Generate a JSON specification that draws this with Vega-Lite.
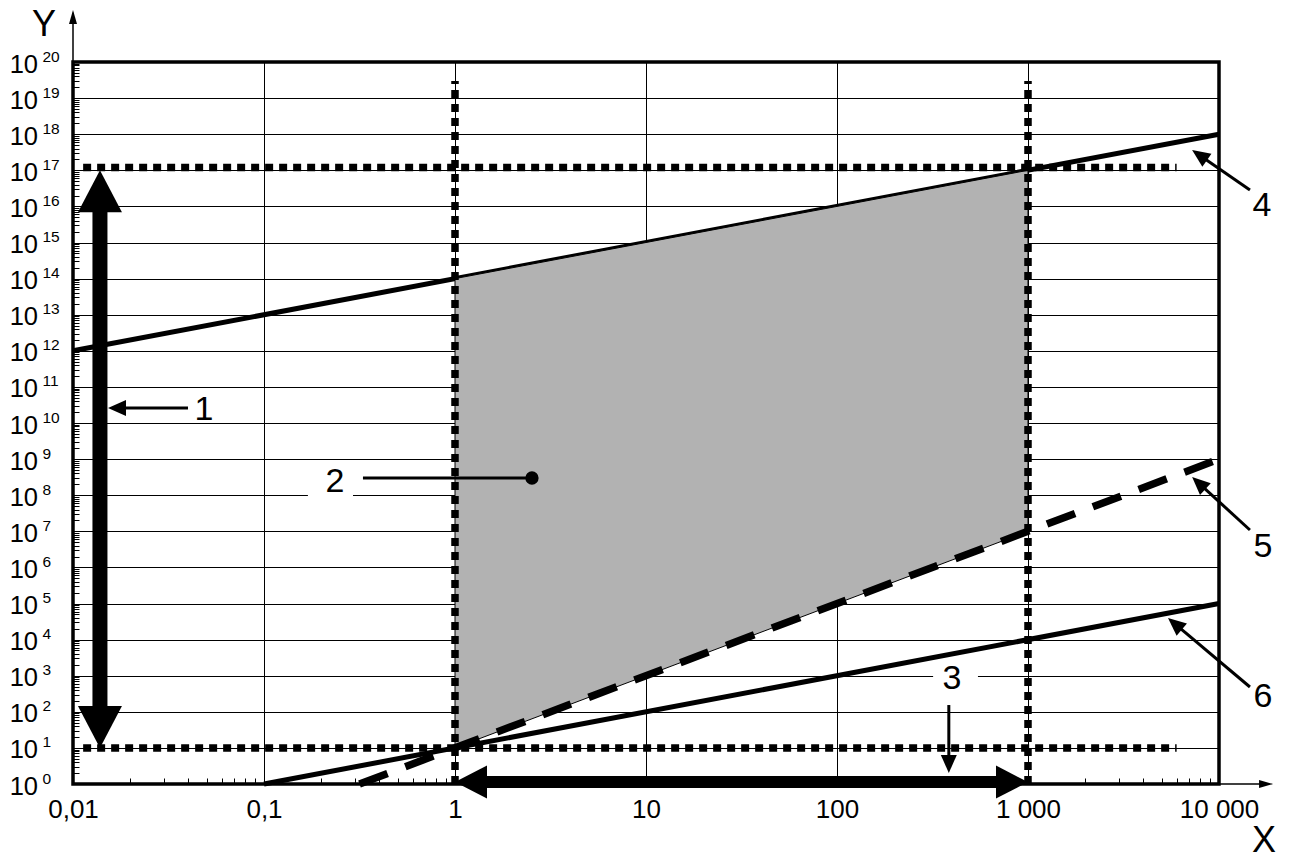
{
  "$schema": "https://vega.github.io/schema/vega-lite/v6.json",
  "width": 1146,
  "height": 722,
  "autosize": {"type": "none"},
  "padding": {"left": 73, "top": 62, "right": 73, "bottom": 74},
  "background": "white",
  "config": {
    "font": "Liberation Sans",
    "view": {"stroke": "black", "strokeWidth": 3.5},
    "axis": {"titleFont": "Liberation Sans", "labelFont": "Liberation Sans", "titleColor": "black", "labelColor": "black"}
  },
  "datasets": {
    "boxes": [
      {"x": 0.1698, "x2": 0.2924, "y": 8.3e8, "y2": 7.36e7},
      {"x": 318.6, "x2": 547, "y": 2722, "y2": 292}
    ],
    "line4": [{"x": 0.01, "y": 1e12}, {"x": 10000, "y": 1e18}],
    "region": [{"x": 1, "y": 1e14, "y2": 10}, {"x": 1000, "y": 1e17, "y2": 1e7}],
    "line5": [{"x": 0.3162, "y": 1}, {"x": 10000, "y": 1e9}],
    "line6": [{"x": 0.1, "y": 1}, {"x": 10000, "y": 1e5}],
    "dotted": [
      {"x": 1, "x2": 1, "y": 1, "y2": 3e19},
      {"x": 1000, "x2": 1000, "y": 1, "y2": 3e19},
      {"x": 0.0113, "x2": 6000, "y": 10, "y2": 10},
      {"x": 0.0113, "x2": 6000, "y": 1.2e17, "y2": 1.2e17}
    ],
    "bars": [
      {"id": "v", "x": 0.01384, "x2": 0.01384, "y": 100, "y2": 1e16},
      {"id": "h", "x": 1.4, "x2": 720, "y": 1.13, "y2": 1.13}
    ],
    "heads": [
      {"id": "a1up", "x": 0.01384, "y": 1e17},
      {"id": "a1dn", "x": 0.01384, "y": 10},
      {"id": "a3l", "x": 1, "y": 1.13},
      {"id": "a3r", "x": 1000, "y": 1.13},
      {"id": "l1", "x": 0.01525, "y": 2.6e10},
      {"id": "l3", "x": 385, "y": 2.02},
      {"id": "l4", "x": 7230, "y": 3.65e17},
      {"id": "l5", "x": 7230, "y": 3.19e8},
      {"id": "l6", "x": 5408, "y": 39650},
      {"id": "ay", "x": 0.01, "y": 2.76e21},
      {"id": "ax", "x": 19190, "y": 1}
    ],
    "leaders": [
      {"x": 0.04, "y": 2.6e10, "x2": 0.0168, "y2": 2.6e10},
      {"x": 385, "y": 154, "x2": 385, "y2": 3.36},
      {"x": 14520, "y": 2.85e16, "x2": 7816, "y2": 2.74e17},
      {"x": 14520, "y": 1.087e7, "x2": 7762, "y2": 2.26e8},
      {"x": 14520, "y": 486, "x2": 5821, "y2": 28450},
      {"x": 0.3297, "y": 2.99e8, "x2": 2.529, "y2": 2.99e8}
    ],
    "dot": [{"x": 2.529, "y": 2.99e8}],
    "axisext": [
      {"x": 0.01, "x2": 0.01, "y": 1e20, "y2": 2.3e21},
      {"x": 10000, "x2": 17500, "y": 1, "y2": 1}
    ],
    "labels": [
      {"x": 0.0485, "y": 2.6e10, "t": "1"},
      {"x": 0.2355, "y": 2.64e8, "t": "2"},
      {"x": 400, "y": 920, "t": "3"},
      {"x": 16790, "y": 1.165e16, "t": "4"},
      {"x": 16980, "y": 4.17e6, "t": "5"},
      {"x": 16980, "y": 292, "t": "6"}
    ],
    "ylab": [
      {"x": 0.01, "y": 1, "e": "0"}, {"x": 0.01, "y": 1e1, "e": "1"}, {"x": 0.01, "y": 1e2, "e": "2"}, {"x": 0.01, "y": 1e3, "e": "3"},
      {"x": 0.01, "y": 1e4, "e": "4"}, {"x": 0.01, "y": 1e5, "e": "5"}, {"x": 0.01, "y": 1e6, "e": "6"}, {"x": 0.01, "y": 1e7, "e": "7"},
      {"x": 0.01, "y": 1e8, "e": "8"}, {"x": 0.01, "y": 1e9, "e": "9"}, {"x": 0.01, "y": 1e10, "e": "10"}, {"x": 0.01, "y": 1e11, "e": "11"},
      {"x": 0.01, "y": 1e12, "e": "12"}, {"x": 0.01, "y": 1e13, "e": "13"}, {"x": 0.01, "y": 1e14, "e": "14"}, {"x": 0.01, "y": 1e15, "e": "15"},
      {"x": 0.01, "y": 1e16, "e": "16"}, {"x": 0.01, "y": 1e17, "e": "17"}, {"x": 0.01, "y": 1e18, "e": "18"}, {"x": 0.01, "y": 1e19, "e": "19"},
      {"x": 0.01, "y": 1e20, "e": "20"}
    ]
  },
  "encoding": {
    "x": {
      "field": "x", "type": "quantitative",
      "scale": {"type": "log", "domain": [0.01, 10000], "nice": false},
      "axis": {
        "title": "X", "titleFontSize": 36, "titleFontWeight": "normal",
        "titleX": 1190.5, "titleY": 56, "titleAlign": "center", "titleBaseline": "middle", "titleAngle": 0,
        "grid": true, "gridColor": "black", "gridWidth": 1,
        "gridOpacity": {"condition": {"test": "abs(log(datum.value)/LN10 - round(log(datum.value)/LN10)) < 0.001", "value": 1}, "value": 0},
        "tickCount": 60, "ticks": true, "tickSize": -6, "tickColor": "black", "tickWidth": 1,
        "domain": false,
        "labelExpr": "abs(datum.value-0.01)<1e-9 ? '0,01' : abs(datum.value-0.1)<1e-9 ? '0,1' : abs(datum.value-1)<1e-9 ? '1' : abs(datum.value-10)<1e-9 ? '10' : abs(datum.value-100)<1e-9 ? '100' : abs(datum.value-1000)<1e-9 ? '1 000' : abs(datum.value-10000)<1e-9 ? '10 000' : ''",
        "labelFontSize": 26, "labelPadding": 18, "labelFlush": false, "labelOverlap": false, "labelBaseline": "top"
      }
    },
    "y": {
      "field": "y", "type": "quantitative",
      "scale": {"type": "log", "domain": [1, 1e20], "nice": false},
      "axis": {
        "title": "Y", "titleFontSize": 36, "titleFontWeight": "normal", "titleAngle": 0,
        "titleX": -29.5, "titleY": -38, "titleAlign": "center", "titleBaseline": "middle",
        "grid": true, "gridColor": "black", "gridWidth": 1,
        "gridOpacity": {"condition": {"test": "abs(log(datum.value)/LN10 - round(log(datum.value)/LN10)) < 0.001", "value": 1}, "value": 0},
        "tickCount": 100, "ticks": true, "tickSize": -6, "tickColor": "black", "tickWidth": 1,
        "domain": false, "labels": false
      }
    }
  },
  "layer": [
    {"data": {"name": "boxes"}, "mark": {"type": "rect", "color": "white"},
     "encoding": {"x2": {"field": "x2"}, "y2": {"field": "y2"}}},
    {"data": {"name": "line4"}, "mark": {"type": "line", "color": "black", "strokeWidth": 5}},
    {"data": {"name": "region"}, "mark": {"type": "area", "fill": "#b2b2b2", "stroke": "black", "strokeWidth": 1, "opacity": 1},
     "encoding": {"y2": {"field": "y2"}}},
    {"data": {"name": "line5"}, "mark": {"type": "line", "color": "black", "strokeWidth": 7.5, "strokeDash": [30, 19]}},
    {"data": {"name": "line6"}, "mark": {"type": "line", "color": "black", "strokeWidth": 5}},
    {"data": {"name": "dotted"}, "mark": {"type": "rule", "color": "black", "strokeWidth": 7.5, "strokeDash": [8, 6]},
     "encoding": {"x2": {"field": "x2"}, "y2": {"field": "y2"}}},
    {"data": {"name": "bars"}, "transform": [{"filter": "datum.id == 'v'"}],
     "mark": {"type": "rule", "color": "black", "strokeWidth": 15},
     "encoding": {"x2": {"field": "x2"}, "y2": {"field": "y2"}}},
    {"data": {"name": "bars"}, "transform": [{"filter": "datum.id == 'h'"}],
     "mark": {"type": "rule", "color": "black", "strokeWidth": 12},
     "encoding": {"x2": {"field": "x2"}, "y2": {"field": "y2"}}},
    {"data": {"name": "heads"}, "transform": [{"filter": "datum.id == 'a1up'"}],
     "mark": {"type": "point", "shape": "M0,0L-1,1.91L1,1.91Z", "size": 1936, "filled": true, "color": "black", "opacity": 1, "strokeWidth": 0}},
    {"data": {"name": "heads"}, "transform": [{"filter": "datum.id == 'a1dn'"}],
     "mark": {"type": "point", "shape": "M0,0L-1,-1.91L1,-1.91Z", "size": 1936, "filled": true, "color": "black", "opacity": 1, "strokeWidth": 0}},
    {"data": {"name": "heads"}, "transform": [{"filter": "datum.id == 'a3l'"}],
     "mark": {"type": "point", "shape": "M0,0L1.94,-1L1.94,1Z", "size": 1089, "filled": true, "color": "black", "opacity": 1, "strokeWidth": 0}},
    {"data": {"name": "heads"}, "transform": [{"filter": "datum.id == 'a3r'"}],
     "mark": {"type": "point", "shape": "M0,0L-1.94,-1L-1.94,1Z", "size": 1089, "filled": true, "color": "black", "opacity": 1, "strokeWidth": 0}},
    {"data": {"name": "leaders"}, "mark": {"type": "rule", "color": "black", "strokeWidth": 3},
     "encoding": {"x2": {"field": "x2"}, "y2": {"field": "y2"}}},
    {"data": {"name": "dot"}, "mark": {"type": "point", "shape": "circle", "size": 177, "filled": true, "color": "black", "opacity": 1}},
    {"data": {"name": "heads"}, "transform": [{"filter": "datum.id == 'l1'"}],
     "mark": {"type": "point", "shape": "M0,0L-1,2.25L1,2.25Z", "size": 256, "angle": 270, "filled": true, "color": "black", "opacity": 1, "strokeWidth": 0}},
    {"data": {"name": "heads"}, "transform": [{"filter": "datum.id == 'l3'"}],
     "mark": {"type": "point", "shape": "M0,0L-1,2.25L1,2.25Z", "size": 256, "angle": 180, "filled": true, "color": "black", "opacity": 1, "strokeWidth": 0}},
    {"data": {"name": "heads"}, "transform": [{"filter": "datum.id == 'l4'"}],
     "mark": {"type": "point", "shape": "M0,0L-1,2.25L1,2.25Z", "size": 256, "angle": 304.6, "filled": true, "color": "black", "opacity": 1, "strokeWidth": 0}},
    {"data": {"name": "heads"}, "transform": [{"filter": "datum.id == 'l5'"}],
     "mark": {"type": "point", "shape": "M0,0L-1,2.25L1,2.25Z", "size": 256, "angle": 312.4, "filled": true, "color": "black", "opacity": 1, "strokeWidth": 0}},
    {"data": {"name": "heads"}, "transform": [{"filter": "datum.id == 'l6'"}],
     "mark": {"type": "point", "shape": "M0,0L-1,2.25L1,2.25Z", "size": 256, "angle": 310.1, "filled": true, "color": "black", "opacity": 1, "strokeWidth": 0}},
    {"data": {"name": "axisext"}, "mark": {"type": "rule", "color": "black", "strokeWidth": 1.5},
     "encoding": {"x2": {"field": "x2"}, "y2": {"field": "y2"}}},
    {"data": {"name": "heads"}, "transform": [{"filter": "datum.id == 'ay'"}],
     "mark": {"type": "point", "shape": "M0,0L-1,3.5L1,3.5Z", "size": 64, "filled": true, "color": "black", "opacity": 1, "strokeWidth": 0}},
    {"data": {"name": "heads"}, "transform": [{"filter": "datum.id == 'ax'"}],
     "mark": {"type": "point", "shape": "M0,0L-3.5,-1L-3.5,1Z", "size": 64, "filled": true, "color": "black", "opacity": 1, "strokeWidth": 0}},
    {"data": {"name": "labels"}, "mark": {"type": "text", "fontSize": 34, "color": "black", "align": "center", "baseline": "middle", "dy": 2},
     "encoding": {"text": {"field": "t"}}},
    {"data": {"name": "ylab"}, "mark": {"type": "text", "fontSize": 25.5, "color": "black", "align": "right", "baseline": "alphabetic", "dx": -35, "dy": 10.5},
     "encoding": {"text": {"value": "10"}}},
    {"data": {"name": "ylab"}, "mark": {"type": "text", "fontSize": 15.5, "color": "black", "align": "left", "baseline": "alphabetic", "dx": -30.5, "dy": -0.5},
     "encoding": {"text": {"field": "e"}}}
  ]
}
